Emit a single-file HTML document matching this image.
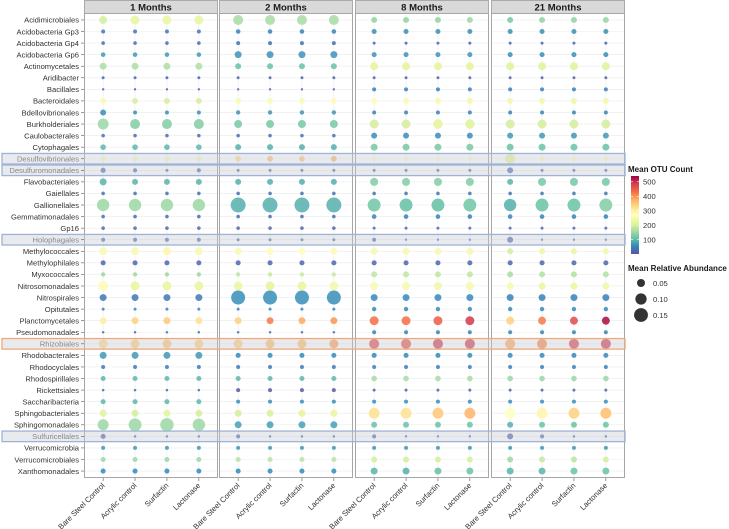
<!DOCTYPE html>
<html><head><meta charset="utf-8"><style>
body{margin:0;background:#fff;}
svg{display:block;font-family:"Liberation Sans",sans-serif;}
</style></head><body>
<svg id="c" width="729" height="529" viewBox="0 0 729 529"></svg>
<script>
const categories=["Acidimicrobiales","Acidobacteria Gp3","Acidobacteria Gp4","Acidobacteria Gp6","Actinomycetales","Aridibacter","Bacillales","Bacteroidales","Bdellovibrionales","Burkholderiales","Caulobacterales","Cytophagales","Desulfovibrionales","Desulfuromonadales","Flavobacteriales","Gaiellales","Gallionellales","Gemmatimonadales","Gp16","Holophagales","Methylococcales","Methylophilales","Myxococcales","Nitrosomonadales","Nitrospirales","Opitutales","Planctomycetales","Pseudomonadales","Rhizobiales","Rhodobacterales","Rhodocyclales","Rhodospirillales","Rickettsiales","Saccharibacteria","Sphingobacteriales","Sphingomonadales","Sulfuricellales","Verrucomicrobia","Verrucomicrobiales","Xanthomonadales"];
const panels=["1 Months","2 Months","8 Months","21 Months"];
const treatments=["Bare Steel Control","Acrylic control","Surfactin","Lactonase"];
const highlighted={"Desulfovibrionales":"#9fb3d6","Desulfuromonadales":"#9fb3d6","Holophagales":"#9fb3d6","Sulfuricellales":"#9fb3d6","Rhizobiales":"#f0a878"};
const colorTicks=[100,200,300,400,500];
const sizeTicks=[0.05,0.10,0.15];
const abundance=[
[.05,.063,.063,.063, .078,.078,.078,.078, .028,.028,.028,.028, .028,.028,.028,.028],
[.0125,.0125,.0125,.0125, .0165,.0165,.0165,.0165, .02,.02,.02,.02, .02,.02,.02,.02],
[.01,.01,.01,.01, .0125,.0125,.0125,.0125, .007,.007,.007,.007, .007,.007,.007,.007],
[.0165,.0165,.0165,.0165, .038,.038,.038,.038, .02,.02,.02,.02, .02,.02,.02,.02],
[.038,.038,.038,.038, .028,.028,.028,.028, .05,.05,.05,.05, .05,.05,.05,.05],
[.007,.007,.007,.007, .007,.007,.007,.007, .007,.007,.007,.007, .007,.007,.007,.007],
[.0045,.0045,.0045,.0045, .0045,.0045,.0045,.0045, .0125,.0125,.0125,.0125, .0125,.0125,.0125,.0125],
[.028,.028,.028,.028, .028,.028,.028,.028, .028,.028,.028,.028, .028,.028,.028,.028],
[.028,.0125,.0125,.0125, .015,.015,.015,.015, .0125,.0125,.0125,.0125, .0125,.0125,.0125,.0125],
[.094,.078,.078,.078, .05,.05,.05,.05, .063,.063,.07,.07, .063,.063,.063,.063],
[.01,.01,.01,.01, .01,.01,.01,.01, .028,.028,.028,.028, .028,.028,.028,.028],
[.025,.025,.025,.025, .028,.028,.028,.028, .038,.038,.038,.038, .038,.038,.038,.038],
[.02,.02,.02,.02, .025,.025,.025,.025, .0125,.0125,.0125,.0125, .078,.0125,.0125,.0125],
[.02,.0125,.007,.0125, .007,.007,.007,.007, .007,.007,.007,.007, .028,.007,.007,.007],
[.038,.028,.028,.028, .028,.028,.028,.028, .05,.05,.05,.05, .028,.05,.05,.05],
[.01,.01,.01,.01, .01,.01,.01,.01, .01,.01,.01,.01, .01,.01,.01,.01],
[.12,.12,.12,.12, .175,.175,.175,.175, .13,.13,.13,.13, .12,.13,.13,.13],
[.01,.01,.01,.01, .01,.01,.01,.01, .0165,.0165,.0165,.0165, .0165,.0165,.0165,.0165],
[.01,.01,.01,.01, .01,.01,.01,.01, .007,.007,.007,.007, .007,.007,.007,.007],
[.0125,.0125,.0125,.0125, .007,.007,.007,.007, .0125,.0045,.0045,.0045, .028,.0045,.0045,.0045],
[.05,.05,.05,.05, .038,.038,.038,.038, .038,.038,.038,.038, .028,.028,.028,.028],
[.02,.02,.02,.02, .02,.02,.02,.02, .02,.02,.02,.02, .02,.02,.02,.02],
[.015,.015,.015,.015, .015,.015,.015,.015, .028,.028,.028,.028, .028,.028,.028,.028],
[.078,.063,.063,.063, .063,.063,.063,.063, .05,.05,.05,.05, .038,.038,.038,.038],
[.038,.038,.038,.038, .153,.153,.153,.153, .038,.038,.038,.038, .038,.038,.038,.038],
[.007,.007,.007,.007, .007,.007,.007,.007, .015,.015,.015,.015, .015,.015,.015,.015],
[.038,.038,.038,.038, .038,.038,.038,.038, .063,.063,.063,.063, .05,.05,.05,.05],
[.005,.005,.005,.005, .005,.005,.005,.005, .0125,.0125,.0125,.0125, .0125,.0125,.0125,.0125],
[.063,.063,.063,.063, .063,.063,.063,.063, .078,.078,.078,.078, .078,.078,.078,.078],
[.038,.038,.038,.038, .02,.02,.02,.02, .02,.02,.02,.02, .02,.02,.02,.02],
[.0125,.0125,.0125,.0125, .0125,.0125,.0125,.0125, .0125,.0125,.0125,.0125, .0125,.0125,.0125,.0125],
[.02,.02,.02,.02, .02,.02,.02,.02, .025,.025,.025,.025, .025,.025,.025,.025],
[.005,.005,.005,.005, .0125,.0125,.0125,.0125, .007,.007,.007,.007, .007,.007,.007,.007],
[.02,.02,.02,.02, .0125,.0125,.0125,.0125, .0125,.0125,.0125,.0125, .0125,.0125,.0125,.0125],
[.038,.038,.038,.038, .038,.038,.038,.038, .094,.094,.094,.094, .094,.094,.094,.094],
[.094,.13,.14,.12, .038,.038,.038,.038, .028,.028,.028,.028, .028,.028,.028,.028],
[.02,.005,.005,.005, .0125,.005,.005,.005, .0125,.0045,.0045,.0045, .028,.0125,.005,.005],
[.0125,.0125,.0125,.0125, .0125,.0125,.0125,.0125, .0125,.0125,.0125,.0125, .0125,.0125,.0125,.0125],
[.02,.02,.02,.02, .02,.02,.02,.02, .028,.028,.028,.028, .028,.028,.028,.028],
[.02,.02,.02,.02, .02,.02,.02,.02, .038,.038,.038,.038, .038,.038,.038,.038]
];
const otuCount=[
[200,220,225,220, 160,160,160,160, 140,140,140,150, 120,140,140,145],
[40,40,40,40, 50,50,50,50, 60,60,60,60, 60,60,60,60],
[25,25,25,25, 30,30,30,30, 15,15,15,15, 15,15,15,15],
[70,70,70,70, 65,65,65,65, 65,65,65,65, 60,60,60,60],
[165,165,165,165, 110,110,110,110, 215,215,215,215, 210,210,210,210],
[20,20,20,20, 20,20,20,20, 20,20,20,20, 20,20,20,20],
[15,15,15,15, 15,15,15,15, 45,45,45,45, 45,45,45,45],
[250,200,200,200, 250,255,255,280, 260,250,245,240, 240,235,230,240],
[60,60,60,60, 65,65,65,65, 50,50,50,50, 50,50,50,50],
[150,130,130,130, 120,120,120,120, 200,200,215,210, 200,200,200,200],
[30,30,30,30, 30,30,30,30, 60,60,60,60, 70,70,70,70],
[100,100,100,100, 90,90,90,90, 120,120,120,120, 110,110,110,110],
[250,250,250,250, 330,360,350,370, 260,260,260,260, 215,260,260,260],
[30,30,30,30, 25,25,25,25, 25,25,25,25, 30,25,25,25],
[95,95,95,95, 90,90,90,90, 130,130,130,130, 95,120,120,120],
[35,35,35,35, 35,35,35,35, 35,35,35,35, 35,35,35,35],
[150,150,150,150, 90,90,90,90, 115,105,105,115, 90,110,110,130],
[30,30,30,30, 30,30,30,30, 50,50,50,50, 50,50,50,50],
[25,25,25,25, 25,25,25,25, 25,25,25,25, 25,25,25,25],
[30,30,30,30, 30,30,30,30, 30,30,30,30, 25,30,30,30],
[250,250,290,250, 250,275,265,280, 245,245,245,245, 200,230,225,240],
[25,25,25,25, 25,25,25,25, 25,25,25,25, 25,25,25,25],
[150,150,150,150, 180,190,190,190, 180,180,180,180, 160,170,170,170],
[280,220,220,220, 225,215,220,240, 250,245,235,245, 245,225,225,235],
[40,40,40,40, 60,60,60,60, 55,55,55,55, 45,45,45,45],
[50,50,50,50, 50,50,50,50, 55,55,55,55, 55,55,55,55],
[300,340,350,320, 340,420,380,400, 430,430,450,490, 340,420,470,530],
[30,30,30,30, 30,30,30,30, 50,50,50,50, 50,50,50,50],
[330,340,350,340, 340,360,360,390, 470,460,490,490, 380,410,480,490],
[70,70,70,70, 55,55,55,55, 55,55,55,55, 55,55,55,55],
[40,40,40,40, 40,40,40,40, 45,45,45,45, 45,45,45,45],
[100,100,100,100, 100,100,100,100, 160,160,160,160, 150,150,150,150],
[20,20,20,20, 10,10,10,10, 20,20,20,20, 20,20,20,20],
[100,100,100,100, 60,60,60,60, 60,60,60,60, 60,60,60,60],
[210,200,215,200, 200,205,215,220, 320,320,350,370, 270,290,340,360],
[150,150,150,150, 75,75,75,75, 110,110,110,110, 90,110,110,110],
[20,20,20,20, 20,20,20,20, 20,20,20,20, 15,20,20,20],
[70,70,70,70, 70,70,70,70, 70,70,70,70, 70,70,70,70],
[150,150,150,150, 175,175,175,175, 200,200,200,200, 150,185,175,200],
[55,55,55,55, 55,55,55,55, 95,90,105,110, 95,95,110,110]
];

const NS="http://www.w3.org/2000/svg";
const svg=document.getElementById('c');
function mk(tag,attrs,parent){const e=document.createElementNS(NS,tag);for(const k in attrs)e.setAttribute(k,attrs[k]);(parent||svg).appendChild(e);return e;}
const panelX=[84,219,355,491], panelW=134, plotTop=13, plotBottom=478, stripH=13;
const rowStep=(plotBottom-plotTop)/(categories.length-1+1.2);
function yPos(i){return plotTop+0.6*rowStep+i*rowStep;}
const colStep=panelW/4.2;
function xPos(p,t){return panelX[p]+0.6*colStep+t*colStep;}
function rScale(v){return 17.9*Math.sqrt(v);}
const stops=["#5E4FA2","#3288BD","#66C2A5","#ABDDA4","#E6F598","#FFFFBF","#FEE08B","#FDAE61","#F46D43","#D53E4F","#9E0142"];
const cMax=540;
function hex(h){return [1,3,5].map(i=>parseInt(h.substr(i,2),16));}
function color(v){let t=Math.max(0,Math.min(1,v/cMax))*(stops.length-1);let i=Math.min(Math.floor(t),stops.length-2);let f=t-i;const a=hex(stops[i]),b=hex(stops[i+1]);return "rgb("+a.map((x,k)=>Math.round(x+(b[k]-x)*f)).join(",")+")";}

for(let p=0;p<4;p++){
  const g=mk('g',{});
  
  
  mk('rect',{x:panelX[p],y:plotTop,width:panelW,height:plotBottom-plotTop,fill:'#fff'},g);
  for(let i=0;i<categories.length;i++) mk('line',{x1:panelX[p],x2:panelX[p]+panelW,y1:yPos(i),y2:yPos(i),stroke:'#ebebeb','stroke-width':0.6},g);
  for(let t=0;t<4;t++) mk('line',{x1:xPos(p,t),x2:xPos(p,t),y1:plotTop,y2:plotBottom,stroke:'#ebebeb','stroke-width':0.6},g);
  const strip=mk('rect',{x:panelX[p]+0.5,y:0.5,width:panelW-1,height:stripH,fill:'#d9d9d9',stroke:'#aaa','stroke-width':1},g);
  
  
  const st=mk('text',{x:panelX[p]+panelW/2,y:10.5,'text-anchor':'middle','font-size':9.5,'font-weight':'bold',fill:'#1a1a1a'},g);
  st.textContent=panels[p];
  
  
}
for(let i=0;i<categories.length;i++){
  for(let p=0;p<4;p++)for(let t=0;t<4;t++){
    const k=p*4+t;
    const c=mk('circle',{cx:xPos(p,t),cy:yPos(i),r:rScale(abundance[i][k]),fill:color(otuCount[i][k]),'fill-opacity':0.85});
    
    
  }
}
for(let p=0;p<4;p++) mk('rect',{x:panelX[p]+0.5,y:plotTop+0.5,width:panelW-1,height:plotBottom-plotTop-1,fill:'none',stroke:'#a6a6a6','stroke-width':1});
for(let i=0;i<categories.length;i++){
  const y=yPos(i), hc=highlighted[categories[i]];
  if(hc){
    const b=mk('rect',{x:2,y:y-rowStep/2+0.5,width:623,height:rowStep-1,fill:'rgba(200,202,212,0.4)',stroke:hc,'stroke-width':1.3});
    
    
  }
  const tx=mk('text',{x:79,y:y+2.8,'text-anchor':'end','font-size':7.6,fill:hc?'#888':'#333'});
  tx.textContent=categories[i];
  
  
  mk('line',{x1:81,x2:84,y1:y,y2:y,stroke:'#555','stroke-width':0.6});
}
for(let p=0;p<4;p++)for(let t=0;t<4;t++){
  const x=xPos(p,t);
  mk('line',{x1:x,x2:x,y1:plotBottom,y2:plotBottom+3,stroke:'#555','stroke-width':0.6});
  const tx=mk('text',{x:x+2,y:plotBottom+8,'text-anchor':'end','font-size':7.6,fill:'#333',transform:'rotate(-45 '+(x+2)+' '+(plotBottom+8)+')'});
  tx.textContent=treatments[t];
  
  
}
const lg=mk('g',{});


const lt=mk('text',{x:628,y:172,'font-size':8,'font-weight':'bold',fill:'#1a1a1a'},lg);lt.textContent="Mean OTU Count";
const defs=mk('defs',{});
const grad=mk('linearGradient',{id:'gr',x1:0,y1:1,x2:0,y2:0},defs);
stops.forEach((s,i)=>mk('stop',{offset:i/(stops.length-1),'stop-color':s},grad));
const barTop=176,barBot=254;
const bar=mk('rect',{x:631,y:barTop,width:8,height:barBot-barTop,fill:'url(#gr)'},lg);


function cY(v){return barBot-(v/cMax)*(barBot-barTop);}
colorTicks.forEach(v=>{
  mk('line',{x1:631,x2:633,y1:cY(v),y2:cY(v),stroke:'#fff','stroke-width':0.6},lg);
  mk('line',{x1:637,x2:639,y1:cY(v),y2:cY(v),stroke:'#fff','stroke-width':0.6},lg);
  const t=mk('text',{x:643,y:cY(v)+2.8,'font-size':7.6,fill:'#333'},lg);t.textContent=v;
});
const st2=mk('text',{x:628,y:271,'font-size':8,'font-weight':'bold',fill:'#1a1a1a'},lg);st2.textContent="Mean Relative Abundance";
sizeTicks.forEach((v,i)=>{
  const y=283+i*16;
  const c=mk('circle',{cx:641,cy:y,r:rScale(v),fill:'#333'},lg);
  
  
  const t=mk('text',{x:653,y:y+2.8,'font-size':7.6,fill:'#333'},lg);t.textContent=v.toFixed(2);
});
</script>
</body></html>
